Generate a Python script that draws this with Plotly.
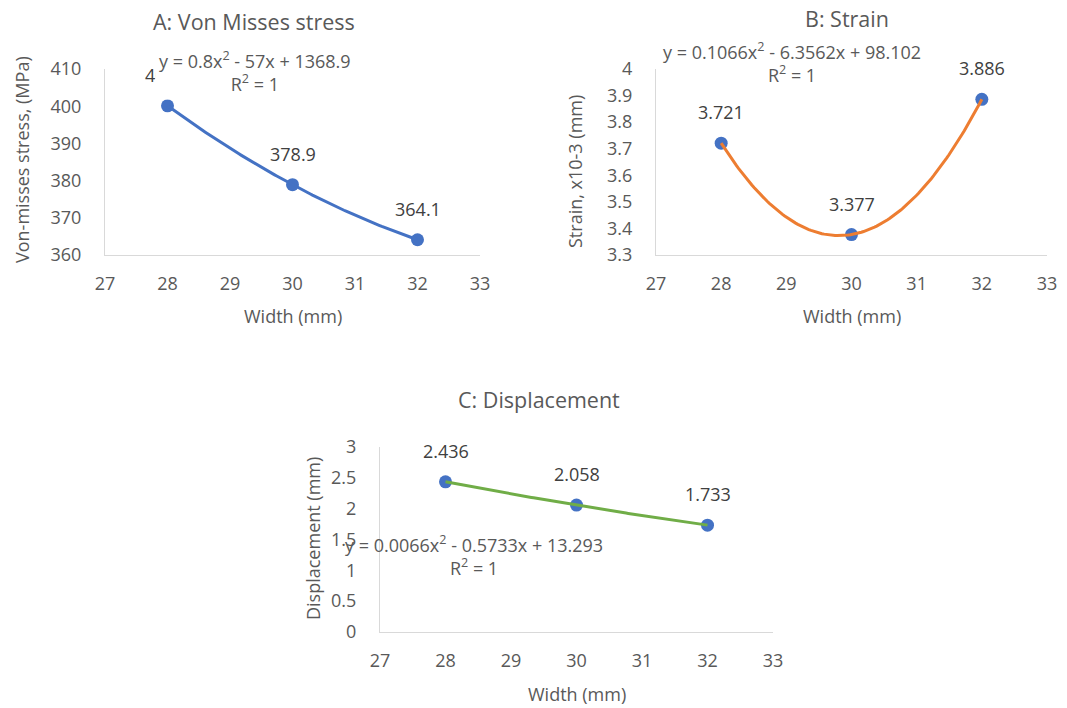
import numpy as np
import plotly.graph_objects as go

# ---- data ----
width = [28, 30, 32]
stress = [400.1, 378.9, 364.1]
strain = [3.721, 3.377, 3.886]
displacement = [2.436, 2.058, 1.733]

stress_labels = ["400.1", "378.9", "364.1"]
strain_labels = ["3.721", "3.377", "3.886"]
disp_labels = ["2.436", "2.058", "1.733"]

eq_a = "y = 0.8x<sup>2</sup> - 57x + 1368.9<br>R<sup>2</sup> = 1"
eq_b = "y = 0.1066x<sup>2</sup> - 6.3562x + 98.102<br>R<sup>2</sup> = 1"
eq_c = "y = 0.0066x<sup>2</sup> - 0.5733x + 13.293<br>R<sup>2</sup> = 1"

W, H = 1067, 708
FONT = "Open Sans"
GRAY = "#595959"
DARK = "#404040"
BLUE = "#4472C4"
ORANGE = "#ED7D31"
GREEN = "#70AD47"


def px(x):
    return x / W


def py(y):
    return 1 - y / H


fig = go.Figure()

panels = [
    ("x", "y", stress, stress_labels, BLUE),
    ("x2", "y2", strain, strain_labels, ORANGE),
    ("x3", "y3", displacement, disp_labels, GREEN),
]

for xa, ya, vals, labs, col in panels:
    fig.add_trace(go.Scatter(x=width, y=vals, mode="markers", xaxis=xa, yaxis=ya,
                             marker=dict(color=BLUE, size=13), showlegend=False,
                             hoverinfo="skip"))
    coef = np.polyfit(width, vals, 2)
    xs = np.linspace(min(width), max(width), 120)
    fig.add_trace(go.Scatter(x=xs, y=np.polyval(coef, xs), mode="lines", xaxis=xa, yaxis=ya,
                             line=dict(color=col, width=3), showlegend=False,
                             hoverinfo="skip"))
    for xv, yv, t in zip(width, vals, labs):
        fig.add_annotation(x=xv, y=yv, xref=xa, yref=ya, text=t, showarrow=False,
                           xanchor="center", yanchor="middle",
                           yshift=31, font=dict(family=FONT, size=18, color=DARK))

axis_common = dict(showgrid=False, zeroline=False, showline=True, linecolor="#D9D9D9",
                   linewidth=1, ticks="outside", tickcolor="rgba(0,0,0,0)",
                   automargin=False,
                   tickfont=dict(family=FONT, size=18, color=GRAY))

xcommon = dict(axis_common, range=[27, 33], dtick=1, tick0=27, ticklen=12)

fig.update_layout(
    template="none",
    width=W, height=H, margin=dict(l=0, r=0, t=0, b=0, pad=0, autoexpand=False),
    paper_bgcolor="white", plot_bgcolor="white", showlegend=False,
    xaxis=dict(xcommon, domain=[px(105), px(480)], anchor="y"),
    yaxis=dict(axis_common, domain=[py(255), py(69)], anchor="x", range=[360, 410],
               dtick=10, tick0=360, ticklen=19),
    xaxis2=dict(xcommon, domain=[px(656), px(1047)], anchor="y2"),
    yaxis2=dict(axis_common, domain=[py(255), py(69)], anchor="x2", range=[3.3, 4.0],
                dtick=0.1, tick0=3.3, ticklen=19, tickformat=".1~f"),
    xaxis3=dict(xcommon, domain=[px(380), px(773)], anchor="y3"),
    yaxis3=dict(axis_common, domain=[py(632), py(447)], anchor="x3", range=[0, 3],
                dtick=0.5, tick0=0, ticklen=19),
)


def paper_text(x, y, text, size, color=GRAY, angle=0, bg=None):
    kw = dict(bgcolor=bg, borderpad=3) if bg else {}
    fig.add_annotation(x=px(x), y=py(y), xref="paper", yref="paper", text=text,
                       showarrow=False, xanchor="center", yanchor="middle",
                       textangle=angle, font=dict(family=FONT, size=size, color=color), **kw)


# equation / R^2 labels
paper_text(255, 71, eq_a, 18, bg="white")
paper_text(792, 62, eq_b, 18)
paper_text(474, 555, eq_c, 18)

# titles
paper_text(254, 21, "A: Von Misses stress", 21.5)
paper_text(847, 18, "B: Strain", 21.5)
paper_text(539, 399, "C: Displacement", 21.5)

# axis titles
paper_text(293, 316, "Width (mm)", 18)
paper_text(852, 316, "Width (mm)", 18)
paper_text(577, 694, "Width (mm)", 18)
paper_text(22, 160, "Von-misses stress, (MPa)", 18, angle=-90)
paper_text(575, 172, "Strain, x10-3 (mm)", 18, angle=-90)
paper_text(313, 539, "Displacement (mm)", 18, angle=-90)

fig.write_html("out.html", config={"displayModeBar": False},
               post_script="document.body.style.margin='0';")
